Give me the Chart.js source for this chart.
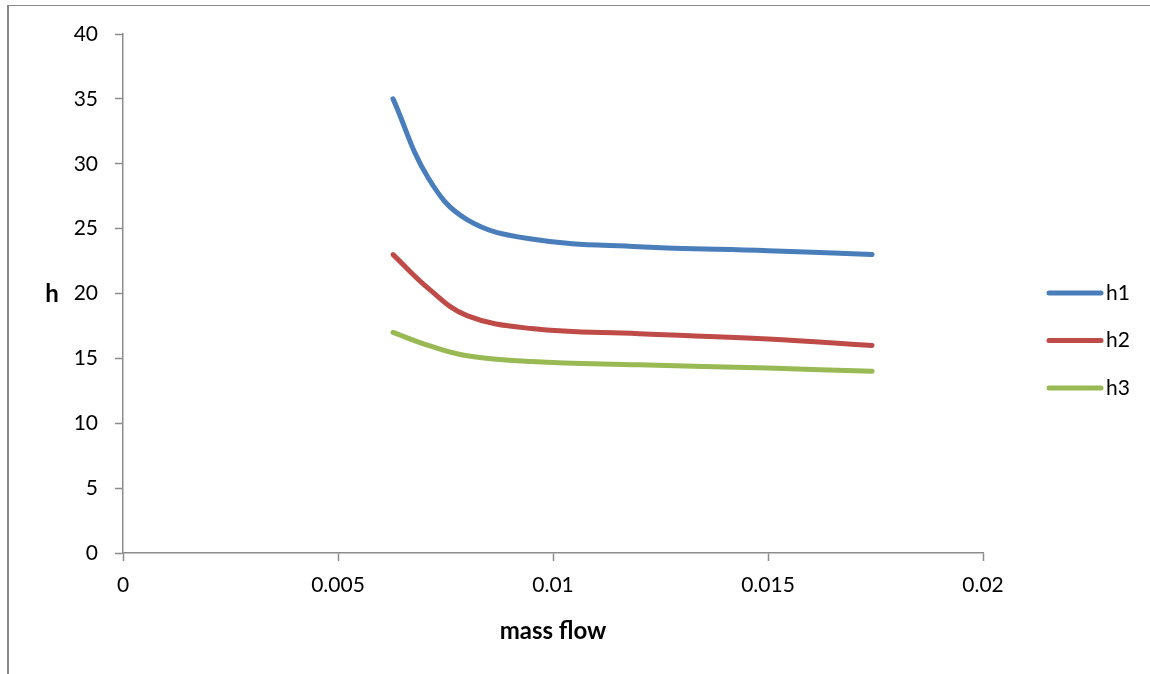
<!DOCTYPE html>
<html>
<head>
<meta charset="utf-8">
<script src="https://cdn.jsdelivr.net/npm/chart.js@4.4.1/dist/chart.umd.min.js"></script>
<style>
    body { margin: 0; background: #fff; }
    #wrap { position: relative; width: 1150px; height: 674px; }
    #frame { position: absolute; left: 7px; top: 5px; right: 0; bottom: 0; border-left: 2px solid #888; border-top: 1px solid #888; }
    canvas { position: absolute; left: 0; top: 0; }
</style>
</head>
<body>
<div id="wrap">
    <div id="frame"></div>
    <canvas id="chart" width="1150" height="674"></canvas>
</div>
<script>
        // nilai
        const seriesNames = ['h1', 'h2', 'h3'];
        const seriesColors = ['#4a7ebb', '#be4b48', '#98b954'];

        const h1Points = [
            [0.00628, 35], [0.0071, 28.9], [0.0080, 25.7],
            [0.0095, 24.2], [0.012, 23.6], [0.015, 23.3], [0.01742, 23.0]
        ];
        const h2Points = [
            [0.00628, 23], [0.0071, 20.4], [0.0080, 18.3],
            [0.0095, 17.3], [0.012, 16.9], [0.015, 16.5], [0.01742, 16.0]
        ];
        const h3Points = [
            [0.00628, 17], [0.0071, 16.0], [0.0080, 15.2],
            [0.0095, 14.75], [0.012, 14.5], [0.015, 14.25], [0.01742, 14.0]
        ];

        const xTicks = [0, 0.005, 0.01, 0.015, 0.02];
        const yTicks = [0, 5, 10, 15, 20, 25, 30, 35, 40];

        const fontFam = 'Lato, "Open Sans", sans-serif';
        const axisGray = '#8c8c8c';

        function toXY(arr) {
            return arr.map(p => ({ x: p[0], y: p[1] }));
        }

        let allSeries = [h1Points, h2Points, h3Points];
        let datasets = allSeries.map((pts, i) => ({
            label: seriesNames[i],
            data: toXY(pts),
            borderColor: seriesColors[i],
            backgroundColor: seriesColors[i],
            borderWidth: 5,
            borderCapStyle: 'round',
            borderJoinStyle: 'round',
            tension: 0.4,
            pointRadius: 0,
            fill: false
        }));

        // judul sumbu y horizontal + legenda di kanan
        const extrasPlugin = {
            id: 'extras',
            afterDraw(chart) {
                const ctx = chart.ctx;
                const area = chart.chartArea;
                ctx.save();
                ctx.fillStyle = '#000';
                ctx.font = 'bold 24px ' + fontFam;
                ctx.textAlign = 'center';
                ctx.textBaseline = 'middle';
                ctx.fillText('h', area.left - 71, (area.top + area.bottom) / 2 + 1);

                ctx.font = '21px ' + fontFam;
                ctx.textAlign = 'left';
                chart.data.datasets.forEach((ds, i) => {
                    let y = 293 + i * 47.5;
                    ctx.strokeStyle = ds.borderColor;
                    ctx.lineWidth = 5;
                    ctx.lineCap = 'round';
                    ctx.beginPath();
                    ctx.moveTo(1049, y);
                    ctx.lineTo(1101, y);
                    ctx.stroke();
                    ctx.fillText(ds.label, 1106, y);
                });
                ctx.restore();
            }
        };

        let ctx = document.getElementById('chart').getContext('2d');
        new Chart(ctx, {
            type: 'line',
            data: { datasets: datasets },
            plugins: [extrasPlugin],
            options: {
                responsive: false,
                animation: false,
                layout: { padding: { top: 34, right: 167, left: 0, bottom: 0 } },
                plugins: { legend: { display: false }, tooltip: { enabled: false } },
                scales: {
                    x: {
                        type: 'linear',
                        min: 0,
                        max: 0.02,
                        afterBuildTicks: axis => { axis.ticks = xTicks.map(v => ({ value: v })); },
                        afterFit: axis => { axis.height = 121; },
                        ticks: {
                            color: '#000',
                            font: { family: fontFam, size: 21 },
                            padding: 12,
                            maxRotation: 0,
                            callback: v => String(v)
                        },
                        grid: { drawOnChartArea: false, drawTicks: true, tickLength: 8, tickColor: axisGray, tickWidth: 1.5 },
                        border: { display: true, color: axisGray, width: 1.5 },
                        title: {
                            display: true,
                            text: 'mass flow',
                            color: '#000',
                            font: { family: fontFam, size: 24, weight: 'bold' },
                            padding: { top: 0, bottom: 28 }
                        }
                    },
                    y: {
                        min: 0,
                        max: 40,
                        afterBuildTicks: axis => { axis.ticks = yTicks.map(v => ({ value: v })); },
                        afterFit: axis => { axis.width = 123; },
                        ticks: {
                            color: '#000',
                            font: { family: fontFam, size: 21 },
                            padding: 17
                        },
                        grid: { drawOnChartArea: false, drawTicks: true, tickLength: 8, tickColor: axisGray, tickWidth: 1.5 },
                        border: { display: true, color: axisGray, width: 1.5 }
                    }
                }
            }
        });
</script>
</body>
</html>
